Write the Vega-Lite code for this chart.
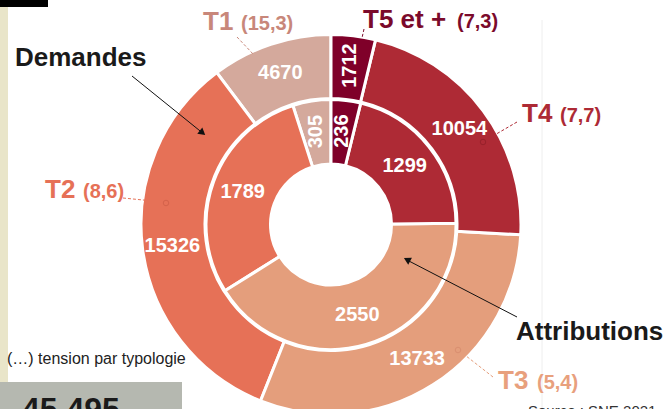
{
  "$schema": "https://vega.github.io/schema/vega-lite/v6.json",
  "width": 662,
  "height": 449,
  "autosize": "none",
  "padding": {"left": 0, "top": 0, "right": 7, "bottom": 0},
  "background": "white",
  "config": {"view": {"stroke": null}, "font": "Liberation Sans"},
  "datasets": {
    "rings": [
      {"ring": "Demandes", "type": "T1", "value": 4670},
      {"ring": "Demandes", "type": "T2", "value": 15326},
      {"ring": "Demandes", "type": "T3", "value": 13733},
      {"ring": "Demandes", "type": "T4", "value": 10054},
      {"ring": "Demandes", "type": "T5 et +", "value": 1712},
      {"ring": "Attributions", "type": "T1", "value": 305},
      {"ring": "Attributions", "type": "T2", "value": 1789},
      {"ring": "Attributions", "type": "T3", "value": 2550},
      {"ring": "Attributions", "type": "T4", "value": 1299},
      {"ring": "Attributions", "type": "T5 et +", "value": 236}
    ]
  },
  "layer": [
    {
      "data": {"values": [{}]},
      "mark": {"type": "rect", "color": "#e9e5c9"},
      "encoding": {"x": {"value": 0}, "x2": {"value": 8}, "y": {"value": 7}, "y2": {"value": 382}}
    },
    {
      "data": {"values": [{}]},
      "mark": {"type": "rect", "color": "#000000"},
      "encoding": {"x": {"value": 0}, "x2": {"value": 48}, "y": {"value": 0}, "y2": {"value": 7}}
    },
    {
      "data": {"values": [{}]},
      "mark": {"type": "rect", "color": "#b5b8b0"},
      "encoding": {"x": {"value": 0}, "x2": {"value": 182}, "y": {"value": 382}, "y2": {"value": 449}}
    },
    {
      "data": {"values": [{}]},
      "mark": {"type": "rule", "color": "#eeeeee", "strokeWidth": 1},
      "encoding": {"x": {"value": 542}, "x2": {"value": 542}, "y": {"value": 20}, "y2": {"value": 449}}
    },
    {
      "data": {"name": "rings"},
      "transform": [{"filter": "datum.ring == 'Demandes'"}],
      "mark": {"type": "arc", "radius": 190, "radius2": 126, "stroke": "white", "strokeWidth": 3},
      "encoding": {
        "theta": {"field": "value", "type": "quantitative", "stack": "normalize"},
        "order": {"field": "type", "type": "ordinal", "sort": "descending"},
        "color": {"field": "type", "type": "nominal", "legend": null,
          "scale": {"domain": ["T1", "T2", "T3", "T4", "T5 et +"], "range": ["#d4a99c", "#e67157", "#e49e7c", "#ae2a35", "#7f0029"]}}
      }
    },
    {
      "data": {"name": "rings"},
      "transform": [{"filter": "datum.ring == 'Attributions'"}],
      "mark": {"type": "arc", "radius": 125, "radius2": 60.5, "stroke": "white", "strokeWidth": 3},
      "encoding": {
        "theta": {"field": "value", "type": "quantitative", "stack": "normalize"},
        "order": {"field": "type", "type": "ordinal", "sort": "descending"},
        "color": {"field": "type", "type": "nominal", "legend": null}
      }
    },
    {
      "data": {"name": "rings"},
      "transform": [{"filter": "datum.ring == 'Demandes'"}],
      "mark": {"type": "text", "radius": 160, "fontSize": 20, "fontWeight": "bold", "fill": "white", "align": "center", "baseline": "middle"},
      "encoding": {
        "theta": {"field": "value", "type": "quantitative", "stack": "normalize"},
        "order": {"field": "type", "type": "ordinal", "sort": "descending"},
        "text": {"field": "value", "type": "quantitative", "format": "d"},
        "angle": {"condition": {"test": "datum.type == 'T5 et +'", "value": 270}, "value": 0}
      }
    },
    {
      "data": {"name": "rings"},
      "transform": [{"filter": "datum.ring == 'Attributions'"}],
      "mark": {"type": "text", "radius": 94, "fontSize": 20, "fontWeight": "bold", "fill": "white", "align": "center", "baseline": "middle"},
      "encoding": {
        "theta": {"field": "value", "type": "quantitative", "stack": "normalize"},
        "order": {"field": "type", "type": "ordinal", "sort": "descending"},
        "text": {"field": "value", "type": "quantitative", "format": "d"},
        "angle": {"condition": {"test": "datum.type == 'T5 et +' || datum.type == 'T1'", "value": 270}, "value": 0}
      }
    },
    {
      "data": {"values": [{}]},
      "mark": {"type": "rule", "color": "#c8877a", "strokeWidth": 1, "strokeDash": [3, 2]},
      "encoding": {"x": {"value": 237}, "y": {"value": 37}, "x2": {"value": 254}, "y2": {"value": 55}}
    },
    {
      "data": {"values": [{}]},
      "mark": {"type": "rule", "color": "#7b0a2b", "strokeWidth": 1, "strokeDash": [3, 2]},
      "encoding": {"x": {"value": 364}, "y": {"value": 29}, "x2": {"value": 362}, "y2": {"value": 38}}
    },
    {
      "data": {"values": [{}]},
      "mark": {"type": "rule", "color": "#ae2a35", "strokeWidth": 1, "strokeDash": [3, 2]},
      "encoding": {"x": {"value": 517}, "y": {"value": 122}, "x2": {"value": 486}, "y2": {"value": 140}}
    },
    {
      "data": {"values": [{}]},
      "mark": {"type": "rule", "color": "#e67157", "strokeWidth": 1, "strokeDash": [3, 2]},
      "encoding": {"x": {"value": 123}, "y": {"value": 198}, "x2": {"value": 163}, "y2": {"value": 202}}
    },
    {
      "data": {"values": [{}]},
      "mark": {"type": "rule", "color": "#e49e7c", "strokeWidth": 1, "strokeDash": [3, 2]},
      "encoding": {"x": {"value": 493}, "y": {"value": 377}, "x2": {"value": 461}, "y2": {"value": 352}}
    },
    {
      "data": {"values": [{}]},
      "mark": {"type": "point", "filled": false, "size": 30, "strokeWidth": 1, "color": "#c95a44", "opacity": 0.6},
      "encoding": {"x": {"value": 166}, "y": {"value": 203}}
    },
    {
      "data": {"values": [{}]},
      "mark": {"type": "point", "filled": false, "size": 30, "strokeWidth": 1, "color": "#8a1c26", "opacity": 0.6},
      "encoding": {"x": {"value": 483}, "y": {"value": 142}}
    },
    {
      "data": {"values": [{}]},
      "mark": {"type": "point", "filled": false, "size": 30, "strokeWidth": 1, "color": "#d4866a", "opacity": 0.6},
      "encoding": {"x": {"value": 458}, "y": {"value": 350}}
    },
    {
      "data": {"values": [{}]},
      "mark": {"type": "rule", "color": "#111111", "strokeWidth": 1},
      "encoding": {"x": {"value": 132}, "y": {"value": 76}, "x2": {"value": 202}, "y2": {"value": 132.5}}
    },
    {
      "data": {"values": [{}]},
      "mark": {"type": "point", "shape": "triangle-up", "filled": true, "size": 64, "color": "#111111", "opacity": 1, "angle": 129},
      "encoding": {"x": {"value": 202.5}, "y": {"value": 132.8}}
    },
    {
      "data": {"values": [{}]},
      "mark": {"type": "rule", "color": "#111111", "strokeWidth": 1},
      "encoding": {"x": {"value": 517}, "y": {"value": 317}, "x2": {"value": 407}, "y2": {"value": 260}}
    },
    {
      "data": {"values": [{}]},
      "mark": {"type": "point", "shape": "triangle-up", "filled": true, "size": 64, "color": "#111111", "opacity": 1, "angle": 297.6},
      "encoding": {"x": {"value": 407}, "y": {"value": 259.7}}
    },
    {
      "data": {"values": [{}]},
      "mark": {"type": "text", "text": "Demandes", "fontSize": 26, "fontWeight": "bold", "color": "#1a1a1a", "align": "left", "baseline": "alphabetic"},
      "encoding": {"x": {"value": 15}, "y": {"value": 66}}
    },
    {
      "data": {"values": [{}]},
      "mark": {"type": "text", "text": "Attributions", "fontSize": 26, "fontWeight": "bold", "color": "#1a1a1a", "align": "left", "baseline": "alphabetic"},
      "encoding": {"x": {"value": 516}, "y": {"value": 340}}
    },
    {
      "data": {"values": [{}]},
      "mark": {"type": "text", "text": "T1", "fontSize": 26, "fontWeight": "bold", "color": "#c8877a", "align": "left", "baseline": "alphabetic"},
      "encoding": {"x": {"value": 203}, "y": {"value": 30}}
    },
    {
      "data": {"values": [{}]},
      "mark": {"type": "text", "text": "(15,3)", "fontSize": 20, "fontWeight": "bold", "color": "#c8877a", "align": "left", "baseline": "alphabetic"},
      "encoding": {"x": {"value": 241}, "y": {"value": 30}}
    },
    {
      "data": {"values": [{}]},
      "mark": {"type": "text", "text": "T5 et +", "fontSize": 26, "fontWeight": "bold", "color": "#7b0a2b", "align": "left", "baseline": "alphabetic"},
      "encoding": {"x": {"value": 363}, "y": {"value": 28}}
    },
    {
      "data": {"values": [{}]},
      "mark": {"type": "text", "text": "(7,3)", "fontSize": 20, "fontWeight": "bold", "color": "#7b0a2b", "align": "left", "baseline": "alphabetic"},
      "encoding": {"x": {"value": 457}, "y": {"value": 28}}
    },
    {
      "data": {"values": [{}]},
      "mark": {"type": "text", "text": "T4", "fontSize": 26, "fontWeight": "bold", "color": "#ad2a35", "align": "left", "baseline": "alphabetic"},
      "encoding": {"x": {"value": 522}, "y": {"value": 122}}
    },
    {
      "data": {"values": [{}]},
      "mark": {"type": "text", "text": "(7,7)", "fontSize": 20, "fontWeight": "bold", "color": "#ad2a35", "align": "left", "baseline": "alphabetic"},
      "encoding": {"x": {"value": 560}, "y": {"value": 122}}
    },
    {
      "data": {"values": [{}]},
      "mark": {"type": "text", "text": "T3", "fontSize": 26, "fontWeight": "bold", "color": "#e8a07d", "align": "left", "baseline": "alphabetic"},
      "encoding": {"x": {"value": 498}, "y": {"value": 389}}
    },
    {
      "data": {"values": [{}]},
      "mark": {"type": "text", "text": "(5,4)", "fontSize": 20, "fontWeight": "bold", "color": "#e8a07d", "align": "left", "baseline": "alphabetic"},
      "encoding": {"x": {"value": 537}, "y": {"value": 389}}
    },
    {
      "data": {"values": [{}]},
      "mark": {"type": "text", "text": "T2", "fontSize": 26, "fontWeight": "bold", "color": "#e67157", "align": "left", "baseline": "alphabetic"},
      "encoding": {"x": {"value": 45}, "y": {"value": 198}}
    },
    {
      "data": {"values": [{}]},
      "mark": {"type": "text", "text": "(8,6)", "fontSize": 20, "fontWeight": "bold", "color": "#e67157", "align": "left", "baseline": "alphabetic"},
      "encoding": {"x": {"value": 83}, "y": {"value": 198}}
    },
    {
      "data": {"values": [{}]},
      "mark": {"type": "text", "text": "(…) tension par typologie", "fontSize": 16, "color": "#222222", "align": "left", "baseline": "alphabetic"},
      "encoding": {"x": {"value": 7}, "y": {"value": 364}}
    },
    {
      "data": {"values": [{}]},
      "mark": {"type": "text", "text": "45 495", "fontSize": 32, "fontWeight": "bold", "color": "#1a1a1a", "align": "left", "baseline": "alphabetic"},
      "encoding": {"x": {"value": 22}, "y": {"value": 420}}
    },
    {
      "data": {"values": [{}]},
      "mark": {"type": "text", "text": "Source : SNE 2021", "fontSize": 15, "color": "#333333", "align": "left", "baseline": "alphabetic"},
      "encoding": {"x": {"value": 528}, "y": {"value": 416}}
    }
  ]
}
